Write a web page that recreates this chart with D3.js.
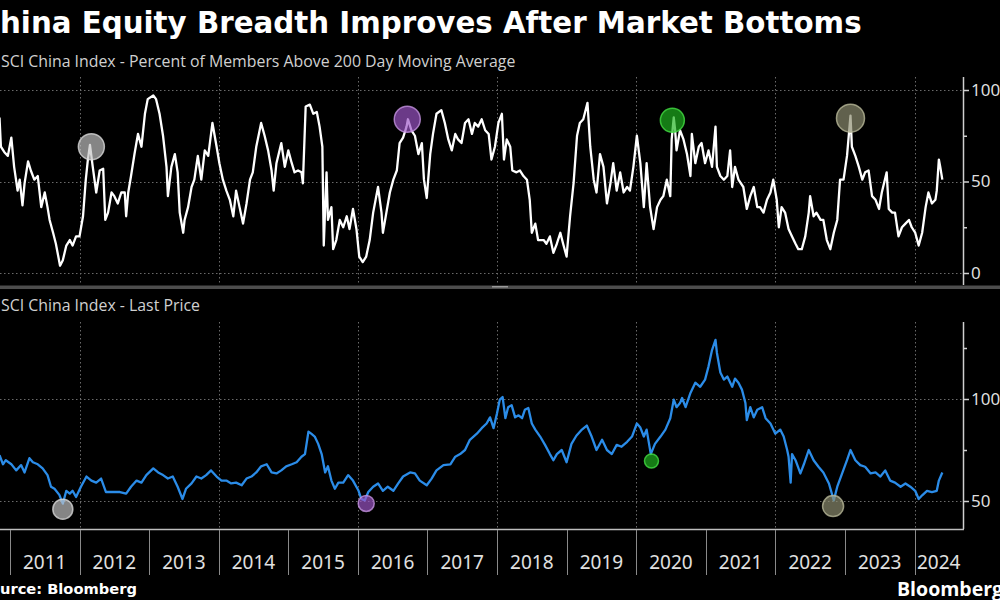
<!DOCTYPE html>
<html><head><meta charset="utf-8">
<script src="https://cdn.jsdelivr.net/npm/d3@7"></script>
<style>html,body{margin:0;padding:0;background:#000;overflow:hidden}</style>
</head><body>
<svg id="c" width="1000" height="600"></svg>
<script>
// ---------------- DATA ----------------
const titleText = "China Equity Breadth Improves After Market Bottoms";
const breadthTitle = "MSCI China Index - Percent of Members Above 200 Day Moving Average";
const priceTitle = "MSCI China Index - Last Price";
const sourceText = "Source: Bloomberg";
const brandText = "Bloomberg";

const yearTicks = [2011,2012,2013,2014,2015,2016,2017,2018,2019,2020,2021,2022,2023,2024];
const gridYears = [2012,2014,2016,2018,2020,2022,2024];
const axisExtent = [2010.857, 2024.697];
const breadthTicks = [0,25,50,75,100];
const breadthLabels = [0,50,100];
const priceTicks = [50,75,100,125];
const priceLabels = [50,100];

// Percent of members above 200DMA (decimal year, percent)
const breadthYear = [2010.85,2010.87,2010.92,2010.97,2011.02,2011.06,2011.11,2011.14,2011.18,2011.21,2011.26,2011.30,2011.35,2011.40,2011.45,2011.50,2011.54,2011.57,2011.62,2011.66,2011.72,2011.76,2011.81,2011.86,2011.90,2011.95,2012.00,2012.05,2012.09,2012.12,2012.15,2012.19,2012.24,2012.29,2012.34,2012.37,2012.41,2012.46,2012.50,2012.55,2012.60,2012.65,2012.67,2012.70,2012.74,2012.79,2012.84,2012.89,2012.94,2012.98,2013.06,2013.10,2013.15,2013.20,2013.25,2013.27,2013.32,2013.37,2013.41,2013.44,2013.49,2013.51,2013.56,2013.61,2013.65,2013.70,2013.75,2013.80,2013.85,2013.91,2013.97,2014.01,2014.06,2014.11,2014.16,2014.21,2014.25,2014.30,2014.35,2014.40,2014.45,2014.49,2014.54,2014.61,2014.66,2014.71,2014.76,2014.79,2014.83,2014.90,2014.95,2015.00,2015.05,2015.09,2015.14,2015.19,2015.21,2015.25,2015.31,2015.36,2015.41,2015.45,2015.49,2015.51,2015.55,2015.57,2015.62,2015.645,2015.69,2015.74,2015.79,2015.84,2015.88,2015.93,2015.98,2016.02,2016.07,2016.12,2016.17,2016.22,2016.29,2016.34,2016.36,2016.41,2016.46,2016.51,2016.56,2016.60,2016.65,2016.70,2016.72,2016.77,2016.82,2016.87,2016.92,2016.95,2016.99,2017.04,2017.08,2017.13,2017.20,2017.25,2017.30,2017.35,2017.40,2017.44,2017.49,2017.54,2017.59,2017.64,2017.68,2017.73,2017.78,2017.83,2017.88,2017.92,2017.97,2018.02,2018.07,2018.10,2018.14,2018.19,2018.22,2018.28,2018.33,2018.38,2018.43,2018.47,2018.50,2018.55,2018.59,2018.67,2018.71,2018.76,2018.81,2018.86,2018.91,2018.95,2019.00,2019.05,2019.10,2019.15,2019.19,2019.24,2019.30,2019.34,2019.39,2019.43,2019.48,2019.53,2019.58,2019.63,2019.67,2019.72,2019.77,2019.82,2019.87,2019.91,2019.96,2020.01,2020.06,2020.11,2020.15,2020.20,2020.25,2020.30,2020.35,2020.39,2020.44,2020.49,2020.51,2020.54,2020.56,2020.58,2020.63,2020.68,2020.73,2020.78,2020.80,2020.85,2020.90,2020.94,2020.99,2021.04,2021.09,2021.14,2021.16,2021.21,2021.26,2021.31,2021.35,2021.38,2021.42,2021.47,2021.54,2021.59,2021.64,2021.69,2021.74,2021.78,2021.83,2021.88,2021.93,2021.97,2022.02,2022.05,2022.09,2022.14,2022.19,2022.24,2022.29,2022.33,2022.38,2022.43,2022.48,2022.50,2022.55,2022.59,2022.65,2022.69,2022.74,2022.79,2022.84,2022.89,2022.93,2022.98,2023.03,2023.08,2023.10,2023.15,2023.20,2023.25,2023.29,2023.34,2023.39,2023.44,2023.49,2023.53,2023.60,2023.63,2023.68,2023.72,2023.77,2023.82,2023.87,2023.92,2023.96,2024.01,2024.06,2024.11,2024.16,2024.20,2024.25,2024.30,2024.32,2024.35,2024.37,2024.40];
const breadthPct = [85,69,66,64,74,58,45,51,37,49,61,56,51,53,36,44,36,29,22,16,4,7,15,18,15,20,20,31,51,62,70,58,44,56,57,29,33,44,42,38,44,44,31,44,53,65,76,69,87,95,97,95,87,75,58,42,58,65,55,33,22,29,36,47,51,64,51,67,64,82,69,60,51,45,40,31,45,36,27,38,51,55,69,82,75,67,56,45,60,71,58,67,60,55,56,55,49,91,92,87,88,80,69,15,55,29,36,13,18,29,25,31,24,35,24,9,6,9,18,33,47,33,22,33,44,51,56,71,74,80,84,78,75,65,71,51,41,65,76,87,89,82,73,67,76,73,71,82,84,76,82,80,84,78,76,62,69,82,87,62,73,69,56,55,56,53,51,40,22,27,18,18,16,20,11,16,22,16,9,31,49,75,82,84,93,69,51,44,65,58,38,49,60,45,55,44,47,45,58,75,60,36,60,36,24,36,40,42,51,42,73,85,78,67,78,73,65,53,76,60,69,71,60,67,58,80,58,53,51,53,67,47,58,51,47,35,42,47,36,36,33,40,44,51,40,25,36,33,24,20,16,13,13,20,33,42,31,33,29,29,18,13,22,29,51,51,64,86,69,64,58,51,55,56,42,40,35,44,55,35,33,33,20,25,27,29,25,22,15,22,36,44,38,40,45,62,58,51];

// MSCI China last price (decimal year, index level)
const priceYear = [2010.85,2010.90,2010.94,2011.02,2011.09,2011.16,2011.21,2011.28,2011.33,2011.40,2011.47,2011.54,2011.59,2011.64,2011.71,2011.76,2011.81,2011.86,2011.90,2011.95,2012.02,2012.10,2012.17,2012.24,2012.31,2012.38,2012.48,2012.58,2012.67,2012.74,2012.82,2012.89,2012.96,2013.06,2013.13,2013.20,2013.27,2013.34,2013.41,2013.48,2013.53,2013.61,2013.68,2013.75,2013.82,2013.89,2013.97,2014.04,2014.11,2014.18,2014.25,2014.33,2014.40,2014.47,2014.54,2014.61,2014.69,2014.76,2014.83,2014.90,2014.97,2015.05,2015.12,2015.19,2015.24,2015.29,2015.33,2015.38,2015.43,2015.48,2015.53,2015.57,2015.62,2015.67,2015.72,2015.79,2015.86,2015.93,2016.01,2016.05,2016.10,2016.15,2016.22,2016.29,2016.36,2016.43,2016.51,2016.58,2016.65,2016.75,2016.82,2016.89,2016.99,2017.06,2017.13,2017.23,2017.33,2017.40,2017.47,2017.54,2017.61,2017.71,2017.78,2017.85,2017.90,2017.95,2018.00,2018.04,2018.08,2018.12,2018.16,2018.21,2018.26,2018.31,2018.36,2018.40,2018.45,2018.50,2018.55,2018.62,2018.69,2018.76,2018.81,2018.86,2018.93,2019.00,2019.07,2019.14,2019.22,2019.29,2019.36,2019.43,2019.51,2019.58,2019.65,2019.72,2019.79,2019.87,2019.94,2020.01,2020.06,2020.11,2020.15,2020.21,2020.27,2020.35,2020.42,2020.49,2020.54,2020.58,2020.63,2020.66,2020.71,2020.78,2020.85,2020.92,2020.99,2021.04,2021.09,2021.14,2021.16,2021.21,2021.26,2021.31,2021.38,2021.42,2021.47,2021.52,2021.57,2021.59,2021.64,2021.69,2021.74,2021.81,2021.86,2021.93,2022.00,2022.07,2022.12,2022.17,2022.19,2022.22,2022.24,2022.29,2022.36,2022.41,2022.48,2022.55,2022.62,2022.69,2022.77,2022.84,2022.89,2022.96,2023.03,2023.08,2023.15,2023.22,2023.29,2023.37,2023.44,2023.51,2023.58,2023.65,2023.72,2023.80,2023.87,2023.94,2024.01,2024.06,2024.11,2024.18,2024.25,2024.32,2024.35,2024.40];
const priceLevel = [72.5,68,70,68,65,67.6,64,71,69,68,66,62.7,57,56,53,48.7,55,53.6,55,52,57,62,60,59,61,54.4,54.4,54.4,53.6,57,60,59,62.7,66,64,62.7,61,62,57,51,56,58.6,62,61,62.7,65,62,60,60,58.6,59,57.7,61,62,64,67,68,64,63.5,65,67,68,69,71.7,73,84,83,81.6,78,73,64,67,60,56,59,59,62.7,60,55,51,50.3,54.4,57,58.6,55,57,55,58.6,62,64,63.5,60,57.7,61,65,67.6,68,71.7,73,75,80,83,85.7,88,91,85.7,93,99.7,101,90.6,96,97,91,92,90.6,94.7,95.6,88,85,81.6,77.5,73,70,73,75,69,78,82,85,87,81.6,75,80,75,73,77.5,76.6,79,81.6,88,86,81.6,85,73,78,81.6,85,90.6,99.7,96,98,100.5,96,103,108,106,109.5,116,124,129,122.7,113,109.5,111,106,110,108,104.6,98,89.6,96,91,94.7,96,90.6,88,83,85,81.6,75,71.7,59,73,70,63.5,68,75,70,66.8,64,58.6,50.3,57,63.5,70,75,70,67.6,66.8,63.5,64,62,65,60,59,57,58.6,57,55,51,52.8,55,54.4,55,60,64];

// Highlighted breadth peaks and price bottoms
const peakYear = [2012.17, 2016.71, 2020.52, 2023.08];
const peakPct = [69, 84, 83.5, 84.6];
const lowYear = [2011.76, 2016.12, 2020.22, 2022.83];
const lowPrice = [46, 48.8, 69.6, 47.5];

// ---------------- STYLE / LAYOUT ----------------
const markerFill = ["#c4c4c4", "#9d56c8", "#1fb51f", "#8f8f72"];
const markerStroke = ["#d8d8d8", "#c494e0", "#44dd44", "#b8b898"];
const peakRadius = [13, 13, 12, 14];
const lowRadius = [10, 8, 7, 10.5];
const W = 1000, H = 600, plotRight = 963;
const topP = {y0: 77, y1: 285}, botP = {y0: 322, y1: 529};

const svg = d3.select("#c");
svg.append("rect").attr("width", W).attr("height", H).attr("fill", "#000");

const x = d3.scaleLinear().domain(axisExtent).range([0, plotRight]);
const yTop = d3.scaleLinear().domain([0, 100]).range([273, 90]);
const yBot = d3.scaleLinear().domain([50, 100]).range([501, 399]);

function measure(txt, fam, wt, size) {
  const t = svg.append("text").attr("font-family", fam).attr("font-weight", wt).attr("font-size", size).text(txt);
  const w = t.node().getComputedTextLength(); t.remove(); return w;
}
function clippedText(txt, prefix, xStart, xEnd, fam, wt, baseSize, y, fill) {
  const full = measure(txt, fam, wt, baseSize), pre = measure(prefix, fam, wt, baseSize);
  const s = (xEnd - xStart) / (full - pre);
  const size = baseSize * s;
  svg.append("text").attr("x", xStart - pre * s).attr("y", y)
    .attr("font-family", fam).attr("font-weight", wt).attr("font-size", size)
    .attr("fill", fill).text(txt);
  return size;
}

// Titles
clippedText(titleText, "C", 0, 862, "DejaVu Sans", "bold", 27, 33, "#ffffff");
const subSize = clippedText(breadthTitle, "M", 1, 516, "Open Sans", "normal", 14.5, 67, "#d0d0d0");
const preM = measure("M", "Open Sans", "normal", subSize);
svg.append("text").attr("x", 1 - preM).attr("y", 311).attr("font-family", "Open Sans")
  .attr("font-size", subSize).attr("fill", "#d0d0d0").text(priceTitle);

// Gridlines
const grid = svg.append("g").attr("stroke", "#6a6a6a").attr("stroke-width", 1).attr("stroke-dasharray", "1.5,2.5");
gridYears.forEach(yr => {
  const gx = Math.round(x(yr)) + 0.5;
  grid.append("line").attr("x1", gx).attr("x2", gx).attr("y1", topP.y0).attr("y2", topP.y1);
  grid.append("line").attr("x1", gx).attr("x2", gx).attr("y1", botP.y0).attr("y2", botP.y1);
});
breadthLabels.forEach(v => grid.append("line").attr("x1", 0).attr("x2", plotRight).attr("y1", Math.round(yTop(v)) + 0.5).attr("y2", Math.round(yTop(v)) + 0.5));
priceLabels.forEach(v => grid.append("line").attr("x1", 0).attr("x2", plotRight).attr("y1", Math.round(yBot(v)) + 0.5).attr("y2", Math.round(yBot(v)) + 0.5));

// Lines
const topLine = d3.line().x((d, i) => x(breadthYear[i])).y(d => yTop(d));
svg.append("path").datum(breadthPct).attr("d", topLine).attr("fill", "none")
  .attr("stroke", "#ffffff").attr("stroke-width", 2.3).attr("stroke-linejoin", "round");
const botLine = d3.line().x((d, i) => x(priceYear[i])).y(d => yBot(d));
svg.append("path").datum(priceLevel).attr("d", botLine).attr("fill", "none")
  .attr("stroke", "#2b8ce8").attr("stroke-width", 2.3).attr("stroke-linejoin", "round");

// Markers
peakYear.forEach((yr, i) => svg.append("circle").attr("cx", x(yr)).attr("cy", yTop(peakPct[i])).attr("r", peakRadius[i])
  .attr("fill", markerFill[i]).attr("fill-opacity", 0.68).attr("stroke", markerStroke[i]).attr("stroke-opacity", 0.8).attr("stroke-width", 1.5));
lowYear.forEach((yr, i) => svg.append("circle").attr("cx", x(yr)).attr("cy", yBot(lowPrice[i])).attr("r", lowRadius[i])
  .attr("fill", markerFill[i]).attr("fill-opacity", 0.68).attr("stroke", markerStroke[i]).attr("stroke-opacity", 0.8).attr("stroke-width", 1.5));

// Panel separator
svg.append("rect").attr("x", 0).attr("y", 285.5).attr("width", W).attr("height", 3.5).attr("fill", "#4d4d4d");
svg.append("rect").attr("x", 492).attr("y", 286).attr("width", 16).attr("height", 1.5).attr("fill", "#9a9a9a");

// Right axes
function rightAxis(scale, ticks, labels, yA, yB) {
  const g = svg.append("g").attr("transform", `translate(${plotRight},0)`);
  g.append("line").attr("x1", 0.5).attr("x2", 0.5).attr("y1", yA).attr("y2", yB).attr("stroke", "#cfcfcf").attr("stroke-width", 1.5);
  const ax = d3.axisRight(scale).tickValues(ticks).tickSize(5).tickPadding(4)
    .tickFormat(d => labels.includes(d) ? d : "");
  const a = g.append("g").call(ax);
  a.select(".domain").remove();
  a.selectAll(".tick line").attr("stroke", "#cfcfcf").attr("stroke-width", 1.5)
    .attr("x2", d => labels.includes(d) ? 6 : 4);
  a.selectAll(".tick text").attr("fill", "#dedede").attr("font-family", "Noto Sans").attr("font-size", 17).attr("x", 8);
}
rightAxis(yTop, breadthTicks, breadthLabels, topP.y0, topP.y1);
rightAxis(yBot, priceTicks, priceLabels, botP.y0, botP.y1);

// Bottom border and x axis
svg.append("line").attr("x1", 0).attr("x2", plotRight + 1).attr("y1", 529.5).attr("y2", 529.5).attr("stroke", "#bdbdbd").attr("stroke-width", 1.5);
const xa = svg.append("g");
yearTicks.forEach(yr => {
  const px = Math.round(x(yr)) + 0.5;
  xa.append("line").attr("x1", px).attr("x2", px).attr("y1", 530).attr("y2", 575).attr("stroke", "#8a8a8a").attr("stroke-width", 1);
  const a = x(Math.max(yr, axisExtent[0])), b = x(Math.min(yr + 1, axisExtent[1]));
  if (b - a > 40) {
    xa.append("text").attr("x", (a + b) / 2).attr("y", 569).attr("text-anchor", "middle")
      .attr("font-family", "Noto Sans").attr("font-size", 19).attr("fill", "#e0e0e0").text(yr);
  }
});

// Footer
clippedText(sourceText, "So", 0, 137, "DejaVu Sans", "bold", 15, 594, "#ffffff");
svg.append("text").attr("x", 897).attr("y", 596).attr("font-family", "Open Sans").attr("font-weight", "bold")
  .attr("font-size", 19.5).attr("fill", "#ffffff").text(brandText);
</script>
</body></html>
